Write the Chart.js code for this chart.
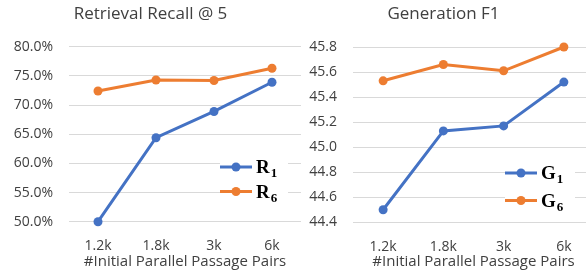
<!DOCTYPE html>
<html>
<head>
<meta charset="utf-8">
<script src="https://cdn.jsdelivr.net/npm/chart.js@4.4.0/dist/chart.umd.min.js"></script>
<style>
  html, body { margin: 0; padding: 0; width: 586px; height: 270px; overflow: hidden; background: #fff; }
  .box { position: absolute; top: 0; width: 310px; height: 270px; }
  #leftBox { left: 0; }
  #rightBox { left: 293px; }
</style>
</head>
<body>
<div class="box" id="leftBox"><canvas id="recallChart" width="310" height="270"></canvas></div>
<div class="box" id="rightBox"><canvas id="f1Chart" width="310" height="270"></canvas></div>
<script>
// data
const pairLabels = ['1.2k', '1.8k', '3k', '6k'];
const recallR1 = [50.0, 64.4, 68.9, 73.9];
const recallR6 = [72.4, 74.3, 74.2, 76.3];
const f1G1 = [44.50, 45.13, 45.17, 45.52];
const f1G6 = [45.53, 45.66, 45.61, 45.80];

const BLUE = '#4472C4';
const ORANGE = '#ED7D31';
const TEXT = '#404040';
const GRID = '#d9d9d9';
const SANS = '"Open Sans", sans-serif';

// legend drawn inside the plot, with white box over the grid like Excel
const insideLegend = {
  id: 'insideLegend',
  afterDraw(chart, args, opts) {
    const ctx = chart.ctx;
    const a = chart.chartArea;
    const x0 = a.right - opts.right;
    ctx.save();
    ctx.fillStyle = '#fff';
    ctx.fillRect(x0, opts.top - opts.gap / 2 - 4, opts.boxWidth, opts.gap * 2 + 6);
    chart.data.datasets.forEach((ds, i) => {
      const y = opts.top + i * opts.gap;
      ctx.strokeStyle = ds.borderColor;
      ctx.lineWidth = 3;
      ctx.beginPath();
      ctx.moveTo(x0, y);
      ctx.lineTo(x0 + 32, y);
      ctx.stroke();
      ctx.fillStyle = ds.borderColor;
      ctx.beginPath();
      ctx.arc(x0 + 16, y, 4.5, 0, Math.PI * 2);
      ctx.fill();
      // label like "R₁": big letter + smaller subscript digit
      const base = ds.label.charAt(0);
      const sub = ds.label.slice(1).replace(/[\u2080-\u2089]/g, c => String(c.charCodeAt(0) - 0x2080));
      ctx.fillStyle = '#000';
      ctx.textBaseline = 'alphabetic';
      ctx.textAlign = 'left';
      ctx.font = 'bold 19px "Liberation Serif", serif';
      const tx = x0 + 36;
      const by = y + 6;
      ctx.fillText(base, tx, by);
      const w = ctx.measureText(base).width;
      ctx.font = 'bold 13px "Liberation Serif", serif';
      ctx.fillText(sub, tx + w + 1, by + 4);
    });
    ctx.restore();
  }
};

function makeChart(id, title, series, names, yMin, yMax, step, fmt, yWidth, legendOpts, chartTop, chartBottom) {
  const ctx = document.getElementById(id).getContext('2d');
  return new Chart(ctx, {
    type: 'line',
    data: {
      labels: pairLabels,
      datasets: series.map((vals, i) => ({
        label: names[i],
        data: vals,
        borderColor: i === 0 ? BLUE : ORANGE,
        backgroundColor: i === 0 ? BLUE : ORANGE,
        borderWidth: 3,
        pointRadius: 4.5,
        pointBorderWidth: 0,
        pointBackgroundColor: i === 0 ? BLUE : ORANGE,
        tension: 0,
        clip: false
      }))
    },
    options: {
      responsive: false,
      animation: false,
      layout: { padding: { left: 0, right: 9, top: 0, bottom: 0 } },
      plugins: {
        legend: { display: false },
        tooltip: { enabled: false },
        title: {
          display: true,
          text: title,
          color: TEXT,
          font: { family: SANS, size: 17, weight: 'normal' },
          padding: { top: 4, bottom: chartTop - 4 - 20.4 }
        },
        insideLegend: legendOpts
      },
      scales: {
        x: {
          offset: true,
          grid: { display: false, drawTicks: false },
          border: { display: false },
          ticks: { color: TEXT, font: { family: SANS, size: 14, lineHeight: 1.1 }, padding: 17 },
          title: {
            display: true,
            text: '#Initial Parallel Passage Pairs',
            color: TEXT,
            font: { family: SANS, size: 15, lineHeight: 1.1 },
            padding: { top: 0, bottom: 0 }
          },
          afterFit(scale) { scale.height = 270 - chartBottom; }
        },
        y: {
          min: yMin,
          max: yMax,
          grid: { color: GRID, lineWidth: 1, drawTicks: false },
          border: { display: false },
          ticks: {
            stepSize: step,
            color: TEXT,
            font: { family: SANS, size: 14 },
            padding: 16,
            callback: fmt
          },
          afterFit(scale) { scale.width = yWidth; }
        }
      }
    },
    plugins: [insideLegend]
  });
}

makeChart('recallChart', 'Retrieval Recall @ 5', [recallR1, recallR6], ['R\u2081', 'R\u2086'],
  50, 80, 5, v => v.toFixed(1) + '%', 69,
  { right: 81, top: 167, gap: 24.5, boxWidth: 68 }, 46.7, 221.7);

makeChart('f1Chart', 'Generation F1', [f1G1, f1G6], ['G\u2081', 'G\u2086'],
  44.4, 45.8, 0.2, v => v.toFixed(1), 60,
  { right: 89, top: 173, gap: 27.5, boxWidth: 70 }, 47, 222.3);
</script>
</body>
</html>
